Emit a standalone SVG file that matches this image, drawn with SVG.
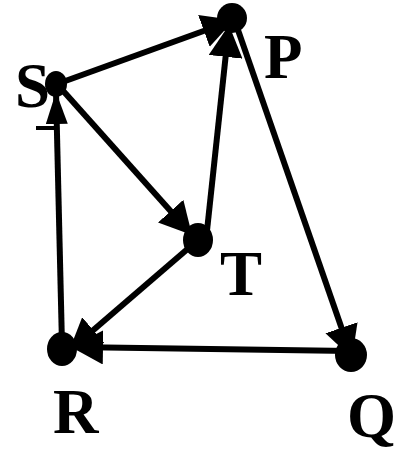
<svg xmlns="http://www.w3.org/2000/svg" width="404" height="452" viewBox="0 0 404 452">
<style>
.edge{stroke:#000;stroke-width:6;fill:none}
.node{fill:#000}
.lbl{font-family:"Liberation Serif","Times New Roman",serif;font-weight:bold;font-size:63px;fill:#000}
</style>
<defs>
<marker id="ah" markerUnits="userSpaceOnUse" markerWidth="32" markerHeight="34" viewBox="0 0 32 34" refX="32" refY="17" orient="auto">
<path d="M0,0 L32,17 L0,34 z" fill="#000"/>
</marker>
<marker id="ahn" markerUnits="userSpaceOnUse" markerWidth="32" markerHeight="22" viewBox="0 0 32 22" refX="32" refY="11" orient="auto">
<path d="M0,0 L32,11 L0,22 z" fill="#000"/>
</marker>
</defs>
<rect width="404" height="452" fill="#fff"/>
<g id="connectors">
<line class="edge" x1="57" y1="84" x2="234" y2="20" marker-end="url(#ah)"/>
<line class="edge" x1="57" y1="84" x2="192" y2="235" marker-end="url(#ah)"/>
<line class="edge" x1="206" y1="240" x2="229" y2="25" marker-end="url(#ah)"/>
<line class="edge" x1="238" y1="30" x2="352" y2="358" marker-end="url(#ah)"/>
<line class="edge" x1="198" y1="240" x2="69" y2="351" marker-end="url(#ah)"/>
<line class="edge" x1="350" y1="351" x2="71" y2="347" marker-end="url(#ah)"/>
<line class="edge" x1="62" y1="345" x2="56" y2="92" marker-end="url(#ahn)"/>
<line class="edge" x1="36" y1="128" x2="55" y2="128" style="stroke-width:4"/>
</g>
<g id="S"><ellipse class="node" cx="56" cy="84" rx="11" ry="13"/><text class="lbl" x="15" y="107">S</text></g>
<g id="P"><ellipse class="node" cx="232" cy="18" rx="15" ry="15"/><text class="lbl" x="264" y="78">P</text></g>
<g id="T"><ellipse class="node" cx="198" cy="240" rx="15" ry="17"/><text class="lbl" x="220" y="295">T</text></g>
<g id="R"><ellipse class="node" cx="62" cy="349" rx="15" ry="17"/><text class="lbl" x="53" y="433">R</text></g>
<g id="Q"><ellipse class="node" cx="351" cy="355" rx="16" ry="17"/><text class="lbl" x="347" y="437">Q</text></g>
</svg>
